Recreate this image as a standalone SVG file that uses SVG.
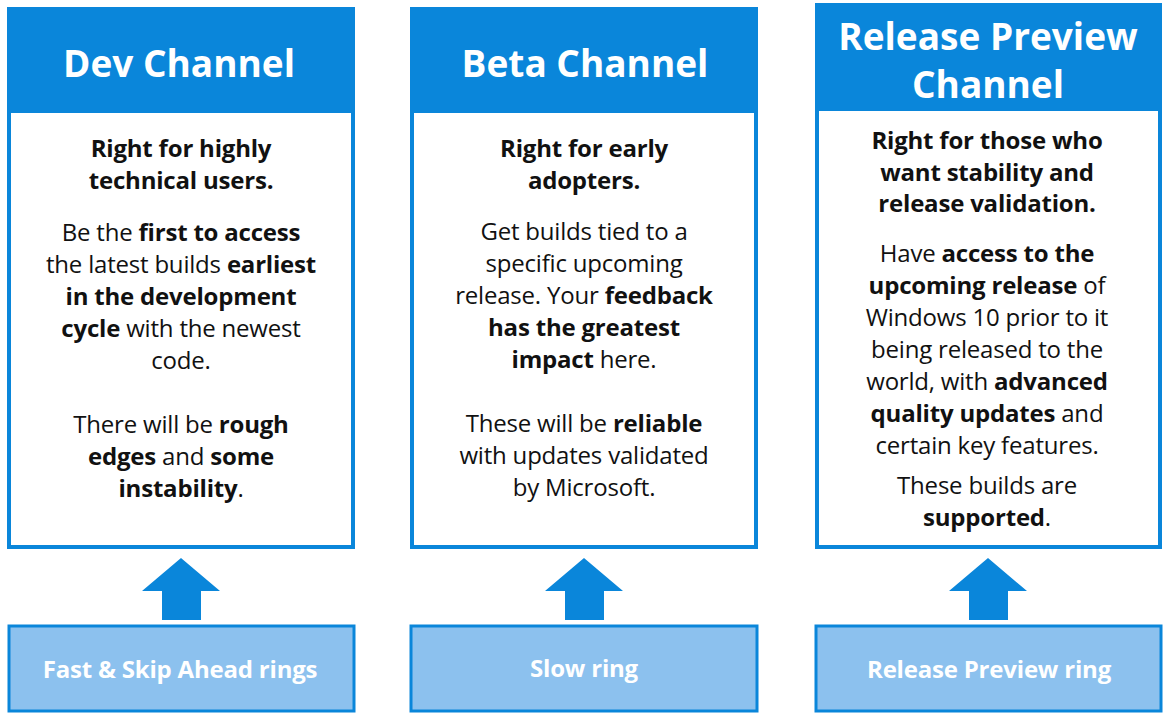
<svg xmlns="http://www.w3.org/2000/svg" width="1168" height="717" viewBox="0 0 1168 717">
<style>
.hd{fill:#0a86da}
.body{fill:#fff;stroke:#0a86da;stroke-width:4}
.bot{fill:#8cc1ee;stroke:#0a86da;stroke-width:3}
.ar{fill:#0a86da}
text{font-family:"Open Sans","Noto Sans",sans-serif;text-anchor:middle}
.h{font-size:37px;font-weight:bold;fill:#fff}
.t{font-size:24px;fill:#111;letter-spacing:-0.2px}
.b{font-weight:bold}
.l{font-size:24px;font-weight:bold;fill:#fff;letter-spacing:-0.2px}
</style>
<g id="dev">
<rect class="body" x="9" y="9" width="344" height="538"/>
<rect class="hd" x="7" y="7" width="348" height="106"/>
<text class="h" x="179" y="77">Dev Channel</text>
<text class="t" x="181"><tspan class="b" x="181" y="157">Right for highly</tspan><tspan class="b" x="181" y="189">technical users.</tspan><tspan x="181" y="241">Be the <tspan class="b">first to access</tspan></tspan><tspan x="181" y="273">the latest builds <tspan class="b">earliest</tspan></tspan><tspan class="b" x="181" y="305">in the development</tspan><tspan x="181" y="337"><tspan class="b">cycle</tspan> with the newest</tspan><tspan x="181" y="369">code.</tspan><tspan x="181" y="433">There will be <tspan class="b">rough</tspan></tspan><tspan x="181" y="465"><tspan class="b">edges</tspan> and <tspan class="b">some</tspan></tspan><tspan x="181" y="497"><tspan class="b">instability</tspan>.</tspan></text>
</g>
<g id="beta">
<rect class="body" x="412" y="9" width="344" height="538"/>
<rect class="hd" x="410" y="7" width="348" height="106"/>
<text class="h" x="585" y="77">Beta Channel</text>
<text class="t" x="584"><tspan class="b" x="584" y="157">Right for early</tspan><tspan class="b" x="584" y="189">adopters.</tspan><tspan x="584" y="240">Get builds tied to a</tspan><tspan x="584" y="272">specific upcoming</tspan><tspan x="584" y="304">release. Your <tspan class="b">feedback</tspan></tspan><tspan class="b" x="584" y="336">has the greatest</tspan><tspan x="584" y="368"><tspan class="b">impact</tspan> here.</tspan><tspan x="584" y="432">These will be <tspan class="b">reliable</tspan></tspan><tspan x="584" y="464">with updates validated</tspan><tspan x="584" y="496">by Microsoft.</tspan></text>
</g>
<g id="rp">
<rect class="body" x="817" y="7" width="343" height="540"/>
<rect class="hd" x="815" y="3" width="347" height="108"/>
<text class="h" x="988" y="50">Release Preview</text>
<text class="h" x="988" y="98">Channel</text>
<text class="t" x="987"><tspan class="b" x="987" y="149">Right for those who</tspan><tspan class="b" x="987" y="181">want stability and</tspan><tspan class="b" x="987" y="212">release validation.</tspan><tspan x="987" y="262">Have <tspan class="b">access to the</tspan></tspan><tspan x="987" y="294"><tspan class="b">upcoming release</tspan> of</tspan><tspan x="987" y="326">Windows 10 prior to it</tspan><tspan x="987" y="358">being released to the</tspan><tspan x="987" y="390">world, with <tspan class="b">advanced</tspan></tspan><tspan x="987" y="422"><tspan class="b">quality updates</tspan> and</tspan><tspan x="987" y="454">certain key features.</tspan><tspan x="987" y="494">These builds are</tspan><tspan x="987" y="526"><tspan class="b">supported</tspan>.</tspan></text>
</g>
<g id="connectors">
<polygon class="ar" points="181,558 220,591 201,591 201,620 162,620 162,591 142,591"/>
<polygon class="ar" points="584,558 623,591 604,591 604,620 565,620 565,591 545,591"/>
<polygon class="ar" points="988,558 1027,591 1008,591 1008,620 969,620 969,591 949,591"/>
</g>
<g id="fast">
<rect class="bot" x="9" y="626" width="345" height="85"/>
<text class="l" x="180" y="678">Fast &amp; Skip Ahead rings</text>
</g>
<g id="slow">
<rect class="bot" x="411" y="626" width="346" height="85"/>
<text class="l" x="584" y="677">Slow ring</text>
</g>
<g id="rpring">
<rect class="bot" x="816" y="626" width="345" height="85"/>
<text class="l" x="989" y="678">Release Preview ring</text>
</g>
</svg>
